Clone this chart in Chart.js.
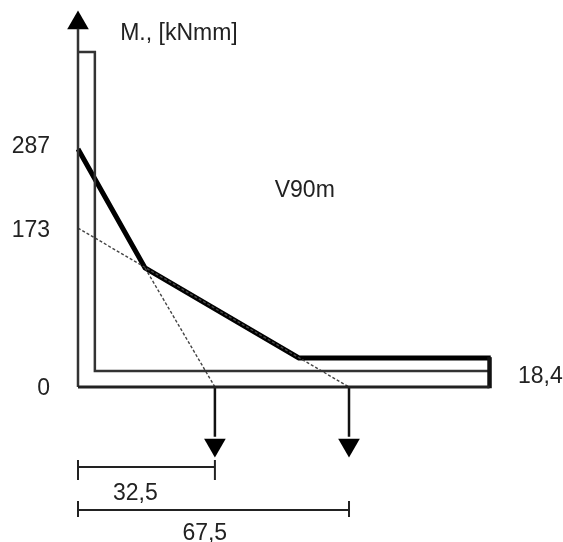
<!DOCTYPE html>
<html><head><meta charset="utf-8">
<style>html,body{margin:0;padding:0;background:#fff}canvas{display:block;filter:blur(0.5px)}</style>
<script src="https://cdn.jsdelivr.net/npm/chart.js@4"></script></head>
<body><canvas id="c" width="563" height="542"></canvas>
<script>
// Schematic values (the drawing is not to scale with its labels)
const momentX = [0, 16.7, 55, 102.8];
const momentY = [287, 143.5, 35, 35];
const tangentAX = [0, 67.5];
const tangentAY = [191.7, 0];
const tangentBX = [16.7, 34.1];
const tangentBY = [143.5, 0];
const outerX = [0, 102.5];
const outerY = [0, 0];
const edgeX = [102.5, 102.5];
const edgeY = [-1.5, 36];
const innerX = [0, 4.2, 4.2, 102.5];
const innerY = [404, 404, 19.3, 19.3];
const axisX = [0, 0];
const axisY = [0, 432];
const yTickValues = [-2.5, 188, 290];
const yTickLabels = ['0', '173', '287'];
const arrowX = [34.1, 67.5];
const arrowTop = 0, arrowEnd = -60, arrowHeadY = -70, axisHeadY = 439;
const dim1X = [0, 34.1], dim1Y = -96.5, dim1TickTop = -88, dim1TickBottom = -112;
const dim2X = [0, 67.5], dim2Y = -148.3, dim2TickTop = -137.5, dim2TickBottom = -156.8;
const notes = [
  {text:'M., [kNmm]', x:10.5, y:425.6},
  {text:'V90m', x:49, y:237},
  {text:'18,4', x:109.6, y:12.1},
  {text:'32,5', x:8.7, y:-129},
  {text:'67,5', x:26, y:-177.4}
];
const pts = (xs, ys) => xs.map((x, i) => ({x, y: ys[i]}));
const line = (data, width, color, extra) => Object.assign({
  data, showLine:true, borderColor:color, borderWidth:width, pointRadius:0, fill:false, tension:0, borderCapStyle:'butt', borderJoinStyle:'miter'
}, extra || {});
const head = (data, rotation) => ({data, showLine:false, pointStyle:'triangle', pointRadius:12.5, pointRotation:rotation,
  backgroundColor:'#000', borderColor:'#000', borderWidth:0});
const dark = '#333333';
const datasets = [
  line(pts(outerX, outerY), 3, '#222'),
  line(pts(edgeX, edgeY), 4.5, '#111'),
  line(pts(innerX, innerY), 2.5, dark),
  line(pts(axisX, axisY), 2.5, dark),
  line(pts(tangentAX, tangentAY), 1.4, '#444', {borderDash:[3,2]}),
  line(pts(tangentBX, tangentBY), 1.4, '#444', {borderDash:[3,2]}),
  line(pts(momentX, momentY), 5, '#000'),
  line(pts([arrowX[0], arrowX[0]], [arrowTop, arrowEnd]), 2.5, '#111'),
  line(pts([arrowX[1], arrowX[1]], [arrowTop, arrowEnd]), 2.5, '#111'),
  head(arrowX.map(x => ({x, y: arrowHeadY})), 180),
  head([{x: 0, y: axisHeadY}], 0),
  line(pts(dim1X, [dim1Y, dim1Y]), 2, '#222'),
  line(pts([dim1X[0], dim1X[0]], [dim1TickTop, dim1TickBottom]), 2, '#222'),
  line(pts([dim1X[1], dim1X[1]], [dim1TickTop, dim1TickBottom]), 2, '#222'),
  line(pts(dim2X, [dim2Y, dim2Y]), 2, '#222'),
  line(pts([dim2X[0], dim2X[0]], [dim2TickTop, dim2TickBottom]), 2, '#222'),
  line(pts([dim2X[1], dim2X[1]], [dim2TickTop, dim2TickBottom]), 2, '#222')
];
const textPlugin = {
  id:'notes',
  afterDatasetsDraw(chart){
    const {ctx, scales:{x, y}} = chart;
    ctx.save();
    ctx.font = '23px "Liberation Sans"';
    ctx.fillStyle = '#222';
    ctx.textAlign = 'left';
    ctx.textBaseline = 'middle';
    notes.forEach(n => ctx.fillText(n.text, x.getPixelForValue(n.x), y.getPixelForValue(n.y)));
    ctx.restore();
  }
};
new Chart(document.getElementById('c'), {
  type:'scatter',
  data:{datasets},
  plugins:[textPlugin],
  options:{
    responsive:false, animation:false,
    layout:{padding:0, autoPadding:false},
    plugins:{legend:{display:false}, tooltip:{enabled:false}},
    clip:false,
    scales:{
      x:{type:'linear', display:false, min:0, max:120.8, position:'bottom'},
      y:{type:'linear', min:-186.9, max:466.7,
         grid:{display:false}, border:{display:false},
         afterBuildTicks(s){s.ticks = yTickValues.map(value => ({value}));},
         afterFit(s){s.width=78; s.paddingTop=0; s.paddingBottom=0;},
         ticks:{padding:20, color:'#222', font:{family:'"Liberation Sans"', size:23},
           autoSkip:false, maxRotation:0,
           callback(v){return yTickLabels[yTickValues.indexOf(v)];}}}
    }
  }
});
</script></body></html>
